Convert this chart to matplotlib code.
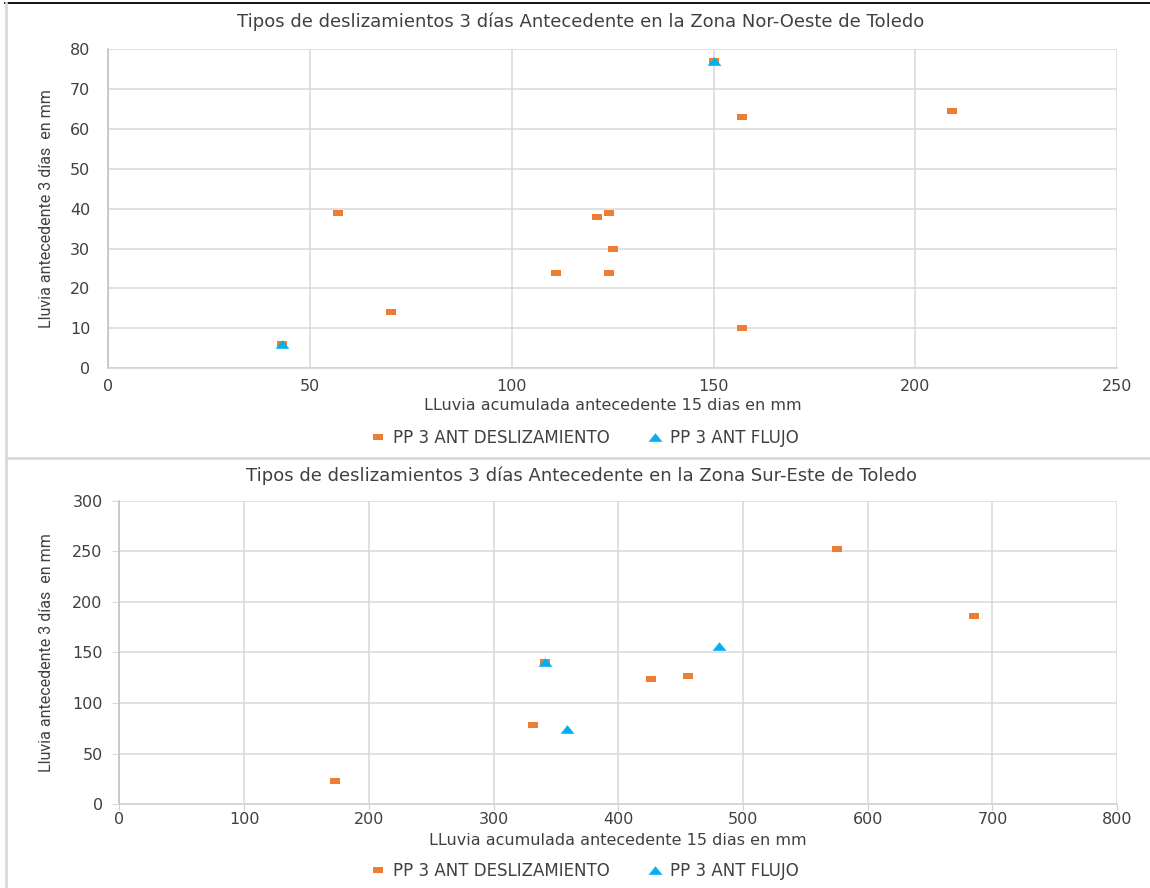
import matplotlib
matplotlib.use("Agg")
import matplotlib.pyplot as plt
from matplotlib.path import Path
from matplotlib.lines import Line2D
from matplotlib import font_manager

# ---- data ----
no_desl_x = [43, 57, 70, 111, 121, 124, 125, 124, 150, 157, 157, 209]
no_desl_y = [6, 39, 14, 24, 38, 39, 30, 24, 77, 63, 10, 64.5]
no_flujo_x = [43, 150]
no_flujo_y = [6, 77]

se_desl_x = [173, 332, 341, 426, 456, 575, 685]
se_desl_y = [23, 78, 141, 124, 126.5, 252, 186]
se_flujo_x = [341, 359, 481]
se_flujo_y = [141, 74, 156]

title_no = "Tipos de deslizamientos 3 días Antecedente en la Zona Nor-Oeste de Toledo"
title_se = "Tipos de deslizamientos 3 días Antecedente en la Zona Sur-Este de Toledo"
xlabel = "LLuvia acumulada antecedente 15 dias en mm"
ylabel = "Lluvia antecedente 3 días  en mm"
series_names = ["PP 3 ANT DESLIZAMIENTO", "PP 3 ANT FLUJO"]

no_xticks = [0, 50, 100, 150, 200, 250]
no_yticks = [0, 10, 20, 30, 40, 50, 60, 70, 80]
se_xticks = [0, 100, 200, 300, 400, 500, 600, 700, 800]
se_yticks = [0, 50, 100, 150, 200, 250, 300]

ORANGE = "#ED7D31"
BLUE = "#00B0F0"
GRID = "#D9D9D9"
TEXT = "#404040"
FONT = "DejaVu Sans"

# pick a narrow face for the vertical axis title
_names = {f.name for f in font_manager.fontManager.ttflist}
if "Liberation Sans Narrow" in _names:
    NARROW = dict(family="Liberation Sans Narrow", size=12.5)
else:
    NARROW = dict(family="Roboto" if "Roboto" in _names else "DejaVu Sans",
                  size=11.5)

# flat rectangle and wide triangle markers
rect = Path([(-1, -0.6), (1, -0.6), (1, 0.6), (-1, 0.6), (-1, -0.6)],
            [Path.MOVETO, Path.LINETO, Path.LINETO, Path.LINETO, Path.CLOSEPOLY])
tri = Path([(-1, -0.62), (1, -0.62), (0, 0.62), (-1, -0.62)],
           [Path.MOVETO, Path.LINETO, Path.LINETO, Path.CLOSEPOLY])

W, H = 1150, 888
fig = plt.figure(figsize=(W / 100, H / 100), dpi=100)


def fx(px):
    return px / W


def fy(py):
    return 1 - py / H


def panel(rect_px, dx, dy, fx_, fy_, xticks, yticks, title, title_y,
          xlabel_y, legend_y, ticks_out):
    l, t, r, b = rect_px
    ax = fig.add_axes([fx(l), fy(b), fx(r - l), (b - t) / H])
    ax.set_xlim(xticks[0], xticks[-1])
    ax.set_ylim(yticks[0], yticks[-1])
    ax.set_xticks(xticks)
    ax.set_yticks(yticks)
    ax.grid(True, color=GRID, lw=1.1)
    ax.set_axisbelow(True)
    for s in ["top", "right"]:
        ax.spines[s].set_visible(False)
    ax.spines["left"].set_color("#BFBFBF")
    ax.spines["bottom"].set_color("#D0D0D0")
    ax.spines["left"].set_linewidth(1.1)
    ax.spines["bottom"].set_linewidth(1.1)
    if ticks_out:
        ax.tick_params(axis="x", length=4, color="#D0D0D0", pad=1.5, direction="out")
        ax.tick_params(axis="y", length=5, color=GRID, pad=7, direction="out")
    else:
        ax.tick_params(axis="x", length=0, pad=8)
        ax.tick_params(axis="y", length=0, pad=13)
    ax.tick_params(labelsize=11.5, labelcolor=TEXT)
    for lab in ax.get_xticklabels() + ax.get_yticklabels():
        lab.set_family(FONT)

    ax.plot(dx, dy, ls="none", marker=rect, ms=7.3, color=ORANGE,
            mec=ORANGE, mew=0, zorder=3, clip_on=False)
    ax.plot(fx_, fy_, ls="none", marker=tri, ms=10, color=BLUE,
            mec=BLUE, mew=0, zorder=4, clip_on=False)

    fig.text(fx(581), fy(title_y), title, ha="center", va="center",
             fontsize=13, color=TEXT, family=FONT)
    fig.text(fx((l + r) / 2), fy(xlabel_y), xlabel, ha="center", va="center",
             fontsize=11.5, color=TEXT, family=FONT)
    fig.text(fx(47), fy((t + b) / 2), ylabel, ha="center", va="center",
             rotation=90, color=TEXT, fontfamily=NARROW["family"],
             fontsize=NARROW["size"])

    handles = [
        Line2D([], [], ls="none", marker=rect, ms=7.3, color=ORANGE, mew=0),
        Line2D([], [], ls="none", marker=tri, ms=10, color=BLUE, mew=0),
    ]
    fig.legend(handles, series_names, loc="center",
               bbox_to_anchor=(fx(585), fy(legend_y)), ncol=2, frameon=False,
               prop={"family": FONT, "size": 12}, labelcolor=TEXT,
               handlelength=0.8, handletextpad=0.5, columnspacing=2.3)
    return ax


panel((108.3, 49, 1117.2, 368.3), no_desl_x, no_desl_y, no_flujo_x, no_flujo_y,
      no_xticks, no_yticks, title_no, 22, 405, 438, False)
panel((119.4, 500.7, 1117.2, 804.3), se_desl_x, se_desl_y, se_flujo_x, se_flujo_y,
      se_xticks, se_yticks, title_se, 476, 840, 871, True)

# chart frames
fig.add_artist(Line2D([fx(5), 1], [fy(3.5), fy(3.5)], color="black", lw=1.3))
fig.add_artist(Line2D([fx(6), fx(6)], [fy(3.5), 0], color=GRID, lw=2))
fig.add_artist(Line2D([fx(6), 1], [fy(458), fy(458)], color=GRID, lw=2))

fig.savefig("out.png", dpi=100, facecolor="white")
